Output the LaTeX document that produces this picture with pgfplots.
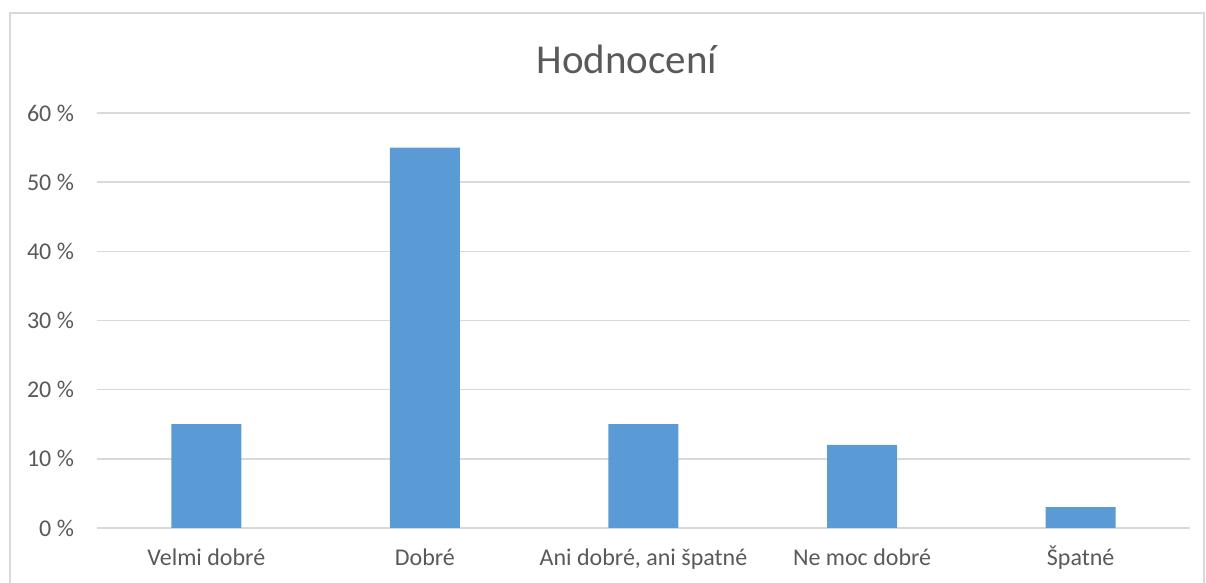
\documentclass[border=0pt]{standalone}
\usepackage{fontspec}
\setmainfont{Carlito}
\usepackage{pgfplots}
\pgfplotsset{compat=1.18}
\definecolor{txt}{HTML}{595959}
\definecolor{gridc}{HTML}{D9D9D9}
\definecolor{barc}{HTML}{5B9BD5}
\begin{document}
\begin{tikzpicture}
% page = 1206x583 px, 1px = 0.5pt
\path[use as bounding box] (0,0) rectangle (603pt,291.5pt);
\draw[gridc, line width=1pt] (5pt,-1pt) -- (5pt,285pt) -- (602pt,285pt) -- (602pt,-1pt);
\node[txt, font=\fontsize{20.5}{24}\selectfont] at (313.5pt,262pt) {Hodnocení};
\begin{axis}[
  at={(48.5pt,27.5pt)}, anchor=south west,
  scale only axis, width=546.5pt, height=207.5pt,
  ybar, bar width=35pt, bar shift=0pt,
  xmin=-0.5, xmax=4.5, ymin=0, ymax=60,
  xtick=data,
  xticklabels={Velmi dobré, Dobré, {Ani dobré, ani špatné}, Ne moc dobré, Špatné},
  ytick={0,10,...,60},
  yticklabel={\pgfmathprintnumber{\tick}~\%},
  /pgf/number format/assume math mode=true,
  major tick length=0pt,
  axis line style={draw=none},
  ymajorgrids, grid style={gridc, line width=0.8pt},
  tick label style={txt, font=\fontsize{12}{14}\selectfont},
  yticklabel style={xshift=-8pt},
  xticklabel style={anchor=base, yshift=-19pt},
]
\addplot[fill=barc, draw=none] coordinates {(0,15) (1,55) (2,15) (3,12) (4,3)};
\end{axis}
\end{tikzpicture}
\end{document}
